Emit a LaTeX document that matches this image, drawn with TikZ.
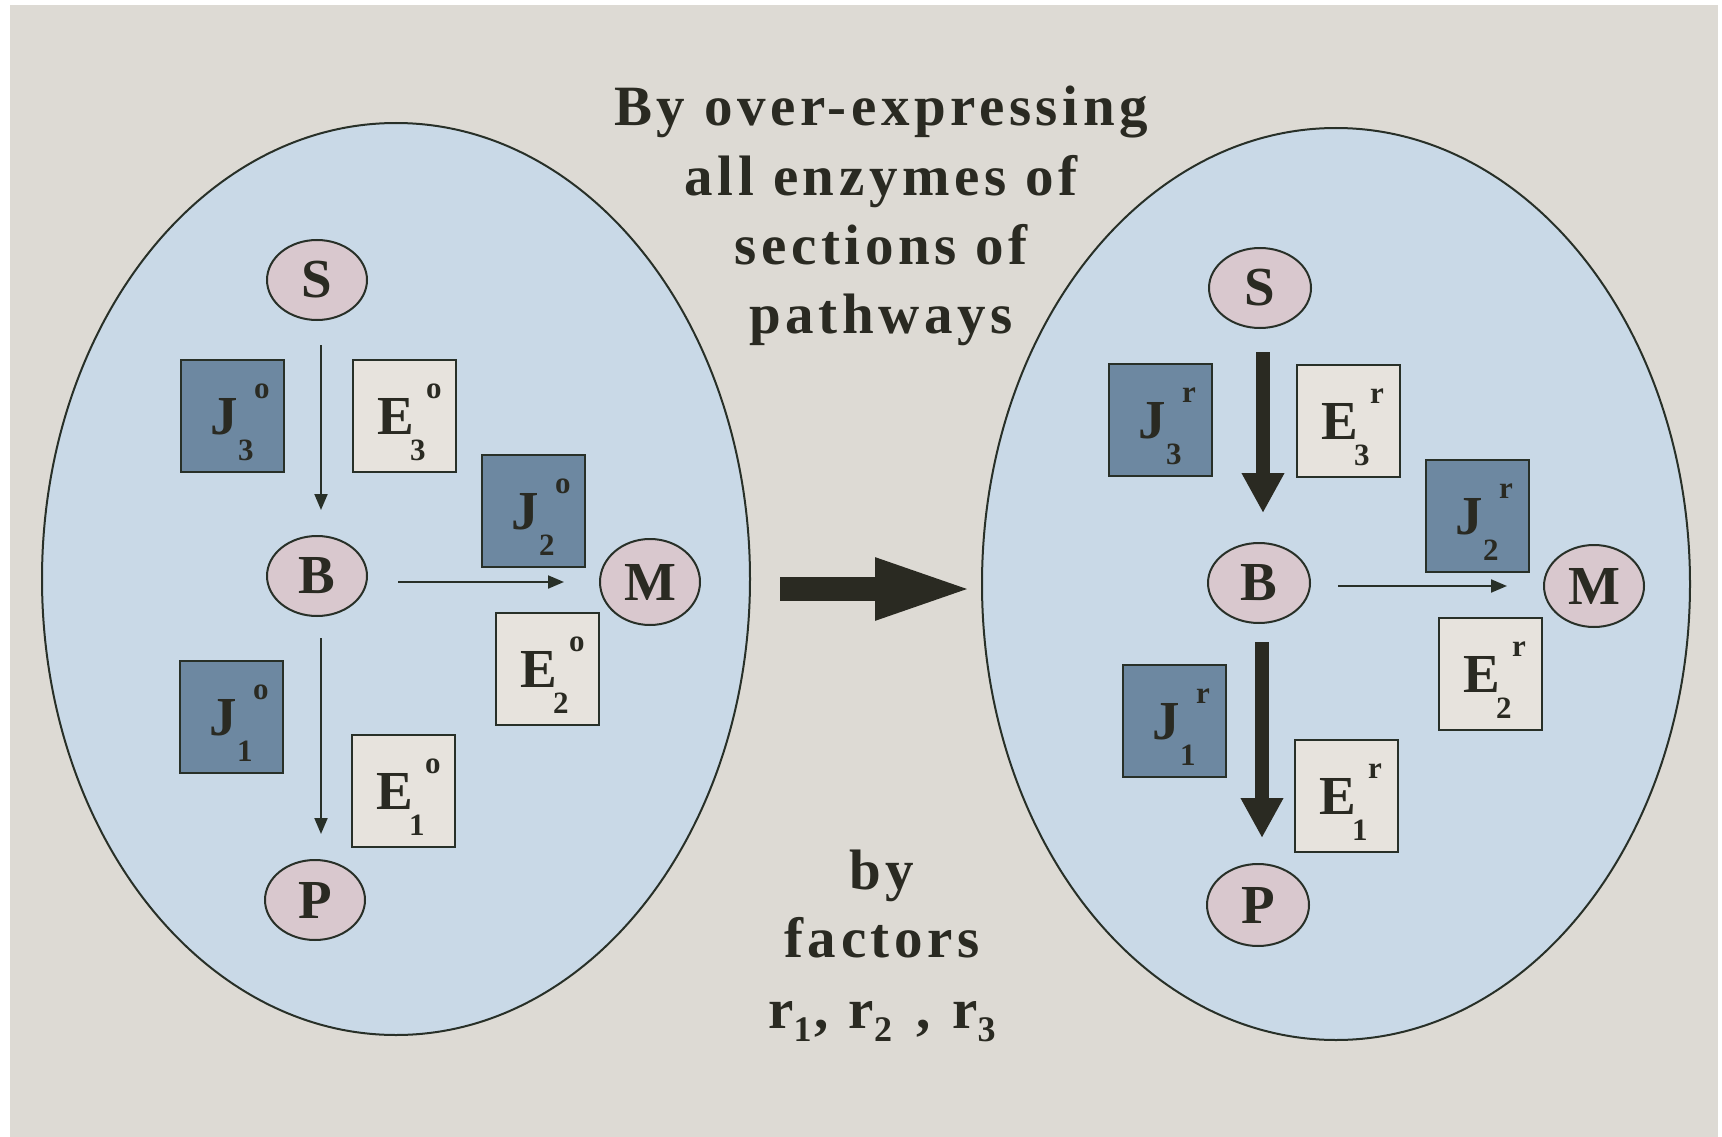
\documentclass[tikz,border=0pt]{standalone}
\usepackage{fontspec}
\setmainfont{Liberation Serif}
\usetikzlibrary{shapes.geometric,arrows.meta}
\definecolor{bg}{HTML}{DDDAD4}
\definecolor{cellfill}{HTML}{C9D9E7}
\definecolor{metfill}{HTML}{D9C8CE}
\definecolor{jfill}{HTML}{6D88A1}
\definecolor{efill}{HTML}{E7E3DD}
\definecolor{ink}{HTML}{283028}
\definecolor{txt}{HTML}{2A2A22}
\newcommand\rsub[1]{\raisebox{-13pt}{\fontsize{36}{36}\selectfont #1}}
\newcommand\enzbox[8]{% name, x, y, style, letter, sub, sup, letter x offset
  \node[#4] (#1) at (#2,#3) {};
  \node[biglet, anchor=base east] (#1l) at ([shift={(#8,18)}]#1.center) {#5};
  \node[sublet, anchor=base west] (#1s) at ([shift={(6,44)}]#1.center) {#6};
  \node[suplet, anchor=base west] (#1u) at ([shift={(22,-18)}]#1.center) {#7};
}
\begin{document}
\begin{tikzpicture}[x=1pt,y=-1pt,
  cell/.style={ellipse, draw=ink, line width=2pt, fill=cellfill, minimum width=708pt, minimum height=912pt, inner sep=0},
  met/.style={ellipse, draw=ink, line width=2pt, fill=metfill, minimum width=100pt, minimum height=80pt, inner sep=0, text=txt, font=\fontsize{55}{55}\selectfont\bfseries},
  jbox/.style={rectangle, draw=ink, line width=2pt, fill=jfill, minimum width=103pt, minimum height=112pt, inner sep=0},
  ebox/.style={jbox, fill=efill},
  biglet/.style={inner sep=0, text=txt, font=\fontsize{55}{55}\selectfont\bfseries},
  sublet/.style={inner sep=0, text=txt, font=\fontsize{31}{31}\selectfont\bfseries},
  suplet/.style={inner sep=0, text=txt, font=\fontsize{31}{31}\selectfont\bfseries},
  flowthin/.style={draw=ink, line width=2pt, -{Triangle[length=16pt,width=13pt]}},
  flowthick/.style={draw=txt, line width=14pt, -{Triangle[length=40pt,width=40pt]}},
  bigarrow/.style={draw=txt, line width=24pt, -{Triangle[length=101pt,width=55pt]}},
  headline/.style={inner sep=0, text=txt, font=\fontsize{57}{57}\selectfont\bfseries\addfontfeature{LetterSpace=8}, anchor=base}
]
\useasboundingbox (0,0) rectangle (1722,1137);
\fill[white] (0,0) rectangle (1722,1137);
\fill[bg] (10,5) rectangle (1718,1137);

% cells
\node[cell] (L) at (396,579) {};
\node[cell] (R) at (1336,584) {};

% left panel
\node[met] (SL) at (317,280) {S};
\node[met] (BL) at (317,576) {B};
\node[met, minimum height=86pt] (ML) at (650,582) {M};
\node[met] (PL) at (315,900) {P};
\enzbox{J3L}{232}{416}{jbox}{J}{3}{o}{6}
\enzbox{E3L}{404}{416}{ebox}{E}{3}{o}{10}
\enzbox{J2L}{533}{511}{jbox}{J}{2}{o}{6}
\enzbox{E2L}{547}{669}{ebox}{E}{2}{o}{10}
\enzbox{J1L}{231}{717}{jbox}{J}{1}{o}{6}
\enzbox{E1L}{403}{791}{ebox}{E}{1}{o}{10}
\draw[flowthin, shorten <=24pt, shorten >=25pt] ([xshift=4pt]SL.south) -- ([xshift=4pt]SL.south |- BL.north);
\draw[flowthin, shorten <=30pt, shorten >=35pt] (BL.east |- ML.center) -- (ML.west);
\draw[flowthin, shorten <=21pt, shorten >=25pt] ([xshift=4pt]BL.south) -- ([xshift=4pt]BL.south |- PL.north);

% right panel
\node[met, minimum width=102pt] (SR) at (1260,288) {S};
\node[met, minimum width=102pt] (BR) at (1259,583) {B};
\node[met, minimum height=82pt] (MR) at (1594,586) {M};
\node[met, minimum width=102pt, minimum height=82pt] (PR) at (1258,905) {P};
\enzbox{J3R}{1160}{420}{jbox}{J}{3}{r}{6}
\enzbox{E3R}{1348}{421}{ebox}{E}{3}{r}{10}
\enzbox{J2R}{1477}{516}{jbox}{J}{2}{r}{6}
\enzbox{E2R}{1490}{674}{ebox}{E}{2}{r}{10}
\enzbox{J1R}{1174}{721}{jbox}{J}{1}{r}{6}
\enzbox{E1R}{1346}{796}{ebox}{E}{1}{r}{10}
\draw[flowthick, shorten <=23pt, shorten >=29pt] ([xshift=3pt]SR.south) -- ([xshift=3pt]SR.south |- BR.north);
\draw[flowthin, shorten <=27pt, shorten >=36pt] (BR.east |- MR.center) -- (MR.west);
\draw[flowthick, shorten <=18pt, shorten >=25pt] ([xshift=3pt]BR.south) -- ([xshift=3pt]BR.south |- PR.north);

% middle arrow
\coordinate (a1) at (780,589);
\coordinate (a2) at (976,589);
\draw[bigarrow] (a1) -- (a2);

% texts
\node[headline] (t1) at (881,126) {By over-expressing};
\node[headline] (t2) at (881,195) {all enzymes of};
\node[headline] (t3) at (881,264) {sections of};
\node[headline] (t4) at (881,333) {pathways};
\node[headline] (b1) at (882,889) {by};
\node[headline] (b2) at (882,957) {factors};
\node[headline] (b3) at (882,1028) {r\rsub{1}\hspace{3pt},\hspace{20pt}r\rsub{2}\hspace{24pt},\hspace{22pt}r\rsub{3}};
\end{tikzpicture}
\end{document}
